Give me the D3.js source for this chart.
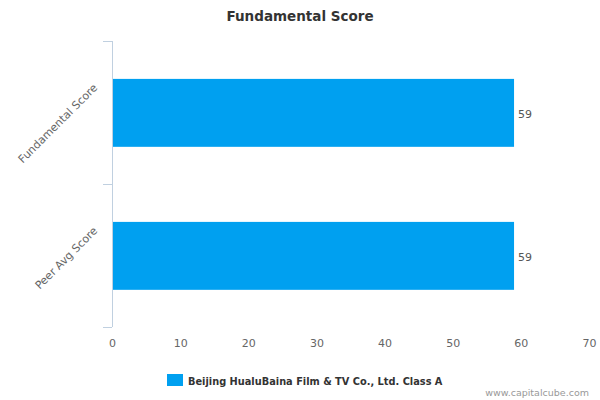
<!DOCTYPE html>
<html>
<head>
<meta charset="utf-8">
<script src="https://cdn.jsdelivr.net/npm/d3@7"></script>
<style>
  body { margin: 0; background: #fff; }
  svg { font-family: "DejaVu Sans", Verdana, sans-serif; }
</style>
</head>
<body>
<svg id="chart" width="600" height="400"></svg>
<script>
const categories = ['Fundamental Score', 'Peer Avg Score'];
const scores = [59, 59];
const xTicks = [0, 10, 20, 30, 40, 50, 60, 70];
const seriesName = 'Beijing HualuBaina Film & TV Co., Ltd. Class A';

const BAR_COLOR = '#00A0F0';
const AXIS_COLOR = '#C0D0E0';

const svg = d3.select('#chart');
const W = +svg.attr('width');
const H = +svg.attr('height');
const margin = { left: 112, right: 11, top: 41, bottom: 73 };

const x = d3.scaleLinear()
  .domain([0, 70])
  .range([margin.left, W - margin.right]);

// category bands, axis ticks sit on their edges
const y = d3.scaleBand()
  .domain(categories)
  .range([margin.top, H - margin.bottom]);

const bw = y.bandwidth();

// title
svg.append('text')
  .attr('x', W / 2)
  .attr('y', 21)
  .attr('text-anchor', 'middle')
  .style('font-size', '13.5px')
  .style('font-weight', 'bold')
  .style('fill', '#333')
  .text('Fundamental Score');

// x axis labels only
const xAxis = d3.axisBottom(x)
  .tickValues(xTicks)
  .tickSize(0)
  .tickPadding(0);

const gx = svg.append('g')
  .attr('transform', `translate(0, ${H - margin.bottom})`)
  .call(xAxis);
gx.select('.domain').remove();
gx.selectAll('text')
  .attr('dy', null)
  .attr('y', 20)
  .style('font-family', '"DejaVu Sans", Verdana, sans-serif')
  .style('font-size', '11px')
  .style('fill', '#666');

// y axis line and edge ticks
const gy = svg.append('g');
gy.append('line')
  .attr('x1', x(0) + 0.5).attr('x2', x(0) + 0.5)
  .attr('y1', margin.top).attr('y2', H - margin.bottom)
  .style('stroke', AXIS_COLOR);

const edges = categories.map(c => y(c)).concat([y(categories[categories.length - 1]) + bw]);
gy.selectAll('line.tick')
  .data(edges)
  .enter()
  .append('line')
    .classed('tick', true)
    .attr('x1', x(0) - 9)
    .attr('x2', x(0))
    .attr('y1', d => Math.round(d) + 0.5)
    .attr('y2', d => Math.round(d) + 0.5)
    .style('stroke', AXIS_COLOR);

gy.selectAll('text.cat')
  .data(categories)
  .enter()
  .append('text')
    .classed('cat', true)
    .attr('text-anchor', 'end')
    .attr('transform', d => `translate(${x(0) - 14}, ${y(d) + bw / 2 - 24}) rotate(-45)`)
    .style('font-size', '11px')
    .style('fill', '#666')
    .text(d => d);

// bars
const data = categories.map((c, i) => ({ cat: c, value: scores[i] }));

svg.selectAll('rect.bar')
  .data(data)
  .enter()
  .append('rect')
    .classed('bar', true)
    .attr('x', x(0) + 1)
    .attr('y', d => y(d.cat) + bw * 0.265)
    .attr('width', d => x(d.value) - x(0) - 1)
    .attr('height', bw * 0.475)
    .style('fill', BAR_COLOR);

svg.selectAll('text.val')
  .data(data)
  .enter()
  .append('text')
    .classed('val', true)
    .attr('x', d => x(d.value) + 4)
    .attr('y', d => y(d.cat) + bw / 2 + 5)
    .style('font-size', '11px')
    .style('fill', '#555')
    .text(d => d.value);

// legend
const legend = svg.append('g');
legend.append('rect')
  .attr('x', 167).attr('y', 374)
  .attr('width', 16).attr('height', 12)
  .style('fill', BAR_COLOR);
legend.append('text')
  .attr('x', 188).attr('y', 385)
  .style('font-size', '9.8px')
  .style('font-weight', 'bold')
  .style('fill', '#333')
  .text(seriesName);

// credit
svg.append('text')
  .attr('x', W - 11)
  .attr('y', 396)
  .attr('text-anchor', 'end')
  .style('font-size', '9.5px')
  .style('fill', '#999')
  .text('www.capitalcube.com');
</script>
</body>
</html>
